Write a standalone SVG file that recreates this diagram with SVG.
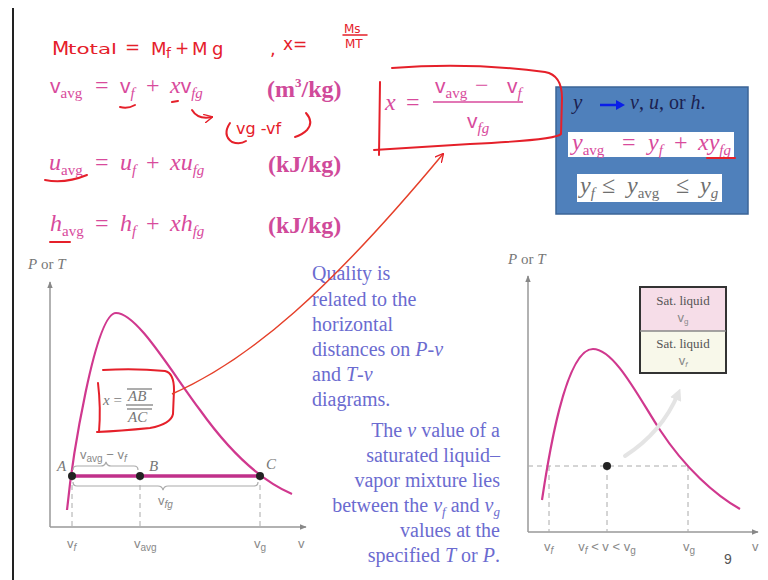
<svg xmlns="http://www.w3.org/2000/svg" width="768" height="580" viewBox="0 0 768 580">
<defs>
<style>
.eq{font-family:"Liberation Serif",serif;font-size:24px;fill:#d84a9c}
.v{font-family:"Liberation Sans",sans-serif;font-size:21px;font-weight:300}
.i{font-style:italic}
.sub{font-size:15px}
.subi{font-size:15px;font-style:italic}
.unit{font-family:"Liberation Serif",serif;font-size:24px;font-weight:bold;fill:#d04a9a}
.hand{font-family:"DejaVu Sans",sans-serif;fill:#e5202a}
.hstroke{fill:none;stroke:#e5202a;stroke-width:2;stroke-linecap:round;stroke-linejoin:round}
.mid{font-family:"Liberation Serif",serif;font-size:20px;fill:#6b6bd0}
.glab{font-family:"Liberation Serif",serif;font-size:15px;fill:#777}
.gsans{font-family:"Liberation Sans",sans-serif;font-size:13px;fill:#888}
.axis{stroke:#999;stroke-width:1.5;fill:none}
.dash{stroke:#aaa;stroke-width:1;stroke-dasharray:5 4;fill:none}
.curve{stroke:#d0388e;stroke-width:2.2;fill:none}
.brace{stroke:#aaa;stroke-width:1.2;fill:none}
</style>
<marker id="ah" viewBox="0 0 10 10" refX="9" refY="5" markerWidth="9" markerHeight="9" orient="auto" markerUnits="userSpaceOnUse">
<path d="M0,0 L10,5 L0,10" fill="none" stroke="#e5202a" stroke-width="1.5"/>
</marker>
<marker id="axh" viewBox="0 0 10 10" refX="9" refY="5" markerWidth="7" markerHeight="7" orient="auto" markerUnits="userSpaceOnUse">
<path d="M0,1 L10,5 L0,9 Z" fill="#888"/>
</marker>
<marker id="gh" viewBox="0 0 10 10" refX="5" refY="5" markerWidth="12" markerHeight="12" orient="auto" markerUnits="userSpaceOnUse">
<path d="M0,0 L10,5 L0,10 Z" fill="#e4e4e4"/>
</marker>
</defs>
<rect width="768" height="580" fill="#ffffff"/>
<line x1="13" y1="8" x2="13" y2="580" stroke="#222" stroke-width="2"/>

<g id="title-handwriting">
<text class="hand" x="52" y="55" font-size="20">M</text>
<text class="hand" x="68" y="54" font-size="14" textLength="49" lengthAdjust="spacingAndGlyphs">total</text>
<text class="hand" x="125" y="53" font-size="18">=</text>
<text class="hand" x="151" y="55" font-size="18">M</text>
<text class="hand" x="166" y="58" font-size="14">f</text>
<text class="hand" x="175" y="54" font-size="17">+</text>
<text class="hand" x="192" y="55" font-size="18">M</text>
<text class="hand" x="212" y="55" font-size="18">g</text>
<text class="hand" x="270" y="55" font-size="18">,</text>
<text class="hand" x="283" y="50" font-size="17">x=</text>
<text class="hand" x="344" y="33" font-size="12">Ms</text>
<line class="hstroke" x1="343" y1="35" x2="367" y2="35" style="stroke-width:1.5"/>
<text class="hand" x="345" y="48" font-size="12">MT</text>
</g>

<g id="eq-v">
<text class="eq" y="93"><tspan x="50" class="v">v</tspan><tspan class="sub" dy="5">avg</tspan><tspan dy="-5" x="95">=</tspan><tspan x="120" class="v">v</tspan><tspan class="subi" dy="5">f</tspan><tspan dy="-5" x="146">+</tspan><tspan x="170" class="i">x</tspan><tspan class="v">v</tspan><tspan class="subi" dy="5">fg</tspan></text>
<text class="unit" x="267" y="97">(m<tspan font-size="13" dy="-10">3</tspan><tspan dy="10">/kg)</tspan></text>
</g>
<g id="eq-u">
<text class="eq" y="170"><tspan x="49" class="i">u</tspan><tspan class="sub" dy="5">avg</tspan><tspan dy="-5" x="95">=</tspan><tspan x="120" class="i">u</tspan><tspan class="subi" dy="5">f</tspan><tspan dy="-5" x="146">+</tspan><tspan x="170" class="i">xu</tspan><tspan class="subi" dy="5">fg</tspan></text>
<text class="unit" x="268" y="172">(kJ/kg)</text>
</g>
<g id="eq-h">
<text class="eq" y="231"><tspan x="50" class="i">h</tspan><tspan class="sub" dy="5">avg</tspan><tspan dy="-5" x="95">=</tspan><tspan x="120" class="i">h</tspan><tspan class="subi" dy="5">f</tspan><tspan dy="-5" x="146">+</tspan><tspan x="170" class="i">xh</tspan><tspan class="subi" dy="5">fg</tspan></text>
<text class="unit" x="268" y="233">(kJ/kg)</text>
</g>

<g id="eq-annotations">
<path class="hstroke" d="M120 107 Q128 109 135 105"/>
<path class="hstroke" d="M172 102 L178 101"/>
<path class="hstroke" d="M192 110 Q198 120 212 117" marker-end="url(#ah)"/>
<path class="hstroke" d="M230 123 Q222 135 232 142 Q240 145 246 141"/>
<text class="hand" x="236" y="134" font-size="16">vg -vf</text>
<path class="hstroke" d="M306 113 Q314 122 307 130 Q302 135 295 137"/>
<path class="hstroke" d="M45 180 Q65 184 87 175"/>
<path class="hstroke" d="M50 242 L70 242"/>
</g>

<g id="y-box">
<rect x="556" y="87" width="192" height="127" fill="#4f80bb" stroke="#3b6497" stroke-width="1.5"/>
<text x="573" y="109" font-family="Liberation Serif,serif" font-size="21" font-style="italic" fill="#1b2150">y</text>
<line x1="600" y1="105" x2="618" y2="105" stroke="#0a1ee8" stroke-width="2.5"/>
<path d="M616 100 L625 105 L616 110 Z" fill="#0a1ee8"/>
<text x="630" y="109" font-family="Liberation Serif,serif" font-size="20" fill="#1b2150"><tspan font-style="italic">v</tspan>, <tspan font-style="italic">u</tspan>, or <tspan font-style="italic">h</tspan>.</text>
<rect x="568" y="132" width="166" height="25" fill="#ffffff"/>
<text class="eq" y="150"><tspan x="572" class="i">y</tspan><tspan class="sub" dy="5">avg</tspan><tspan dy="-5" x="622">=</tspan><tspan x="648" class="i">y</tspan><tspan class="subi" dy="5">f</tspan><tspan dy="-5" x="674">+</tspan><tspan x="698" class="i">xy</tspan><tspan class="subi" dy="5">fg</tspan></text>
<path class="hstroke" d="M707 158 L735 158"/>
<rect x="577" y="174" width="145" height="28" fill="#ffffff"/>
<text class="eq" y="193" style="fill:#6f6f6f"><tspan x="580" class="i">y</tspan><tspan class="subi" dy="5">f</tspan><tspan dy="-5" x="602">≤</tspan><tspan x="627" class="i">y</tspan><tspan class="sub" dy="5">avg</tspan><tspan dy="-5" x="676">≤</tspan><tspan x="700" class="i">y</tspan><tspan class="subi" dy="5">g</tspan></text>
</g>

<g id="x-formula">
<text class="eq" y="110"><tspan x="385" class="i">x</tspan><tspan x="406">=</tspan></text>
<text class="eq" y="93"><tspan x="435" class="v">v</tspan><tspan class="sub" dy="5">avg</tspan><tspan dy="-5" x="475">−</tspan><tspan x="507" class="v">v</tspan><tspan class="subi" dy="5">f</tspan></text>
<line x1="433" y1="102" x2="523" y2="102" stroke="#d84a9c" stroke-width="1.6"/>
<text class="eq" y="128"><tspan x="467" class="v">v</tspan><tspan class="subi" dy="5">fg</tspan></text>
<path class="hstroke" d="M392 68 Q470 62 545 72 Q562 75 562 98 L561 134 Q556 140 470 144 L374 150"/>
<path class="hstroke" d="M380 82 L379 155"/>
</g>

<g id="left-graph">
<line class="axis" x1="50" y1="527" x2="50" y2="282" marker-end="url(#axh)"/>
<line class="axis" x1="50" y1="527" x2="306" y2="527" marker-end="url(#axh)"/>
<text x="28" y="269" class="glab" font-size="14"><tspan font-style="italic">P</tspan> or <tspan font-style="italic">T</tspan></text>
<path class="dash" d="M72 476 V527 M140 476 V527 M260 476 V527"/>
<path class="curve" d="M67 510 C72 460 95 313 116 313 C137 313 170 370 200 410 C225 445 255 478 292 494"/>
<line x1="72" y1="476" x2="260" y2="476" stroke="#c0308a" stroke-width="3.5"/>
<circle cx="72" cy="476" r="4" fill="#222"/>
<circle cx="140" cy="476" r="4" fill="#222"/>
<circle cx="260" cy="476" r="4" fill="#222"/>
<text class="glab" x="57" y="471" font-style="italic">A</text>
<text class="glab" x="149" y="471" font-style="italic">B</text>
<text class="glab" x="266" y="469" font-style="italic">C</text>
<path class="brace" d="M73 470 Q73 466 77 466 L101 466 Q105 466 106 462 Q107 466 111 466 L134 466 Q138 466 138 470"/>
<text class="gsans" x="80" y="459">v<tspan font-size="10" dy="3">avg</tspan><tspan dy="-3"> − v</tspan><tspan font-size="10" dy="3" font-style="italic">f</tspan></text>
<path class="brace" d="M73 482 Q73 486 77 486 L158 486 Q162 486 163 490 Q164 486 168 486 L254 486 Q258 486 258 482"/>
<text class="gsans" x="158" y="505">v<tspan font-size="10" dy="3" font-style="italic">fg</tspan></text>
<text class="gsans" x="67" y="548">v<tspan font-size="10" dy="3" font-style="italic">f</tspan></text>
<text class="gsans" x="134" y="548">v<tspan font-size="10" dy="3">avg</tspan></text>
<text class="gsans" x="254" y="548">v<tspan font-size="10" dy="3">g</tspan></text>
<text class="gsans" x="298" y="548">v</text>
<text class="glab" x="103" y="405" font-style="italic">x<tspan font-style="normal"> =</tspan></text>
<line x1="127" y1="389" x2="152" y2="389" stroke="#777" stroke-width="1.2"/>
<text class="glab" x="128" y="401" font-style="italic">AB</text>
<line x1="126" y1="405" x2="153" y2="405" stroke="#777" stroke-width="1.2"/>
<line x1="127" y1="409" x2="152" y2="409" stroke="#777" stroke-width="1.2"/>
<text class="glab" x="128" y="422" font-style="italic">AC</text>
<path class="hstroke" d="M103 370 Q135 368 165 371 Q174 373 174 390 L173 414 Q171 424 150 428 Q120 431 97 432"/>
<path class="hstroke" d="M98 383 Q101 408 99 432"/>
</g>

<g id="middle-text">
<text class="mid" x="312" y="280">Quality is</text>
<text class="mid" x="312" y="306">related to the</text>
<text class="mid" x="312" y="331">horizontal</text>
<text class="mid" x="312" y="356">distances on <tspan font-style="italic">P</tspan>-<tspan font-style="italic">v</tspan></text>
<text class="mid" x="312" y="381">and <tspan font-style="italic">T</tspan>-<tspan font-style="italic">v</tspan></text>
<text class="mid" x="312" y="406">diagrams.</text>
<text class="mid" x="500" y="437" text-anchor="end">The <tspan font-style="italic">v</tspan> value of a</text>
<text class="mid" x="500" y="462" text-anchor="end">saturated liquid–</text>
<text class="mid" x="500" y="487" text-anchor="end">vapor mixture lies</text>
<text class="mid" x="500" y="512" text-anchor="end">between the <tspan font-style="italic">v</tspan><tspan font-size="13" dy="4" font-style="italic">f</tspan><tspan dy="-4"> and </tspan><tspan font-style="italic">v</tspan><tspan font-size="13" dy="4" font-style="italic">g</tspan></text>
<text class="mid" x="500" y="537" text-anchor="end">values at the</text>
<text class="mid" x="500" y="562" text-anchor="end">specified <tspan font-style="italic">T</tspan> or <tspan font-style="italic">P</tspan>.</text>
</g>

<g id="right-graph">
<line class="axis" x1="528" y1="532" x2="528" y2="276" marker-end="url(#axh)"/>
<line class="axis" x1="528" y1="532" x2="758" y2="532" marker-end="url(#axh)"/>
<text x="508" y="264" class="glab" font-size="14"><tspan font-style="italic">P</tspan> or <tspan font-style="italic">T</tspan></text>
<path class="dash" d="M528 466 H688 M549 466 V532 M607 466 V532 M688 466 V532"/>
<path class="curve" d="M542 500 C548 460 565 349 593 349 C615 349 640 400 660 430 C685 468 715 495 740 509"/>
<circle cx="607" cy="466" r="4" fill="#222"/>
<text class="gsans" x="544" y="551">v<tspan font-size="10" dy="3" font-style="italic">f</tspan></text>
<text class="gsans" x="607" y="551" text-anchor="middle">v<tspan font-size="10" dy="3" font-style="italic">f</tspan><tspan dy="-3"> &lt; v &lt; v</tspan><tspan font-size="10" dy="3">g</tspan></text>
<text class="gsans" x="683" y="551">v<tspan font-size="10" dy="3">g</tspan></text>
<text class="gsans" x="752" y="551">v</text>
<text x="724" y="564" font-family="Liberation Sans,sans-serif" font-size="14" fill="#555">9</text>
</g>

<g id="sat-box">
<rect x="640" y="287" width="86" height="44" fill="#f6dde8"/>
<rect x="640" y="331" width="86" height="42" fill="#f8f8ea"/>
<rect x="640" y="287" width="86" height="86" fill="none" stroke="#333" stroke-width="2"/>
<line x1="640" y1="331" x2="726" y2="331" stroke="#888" stroke-width="1.5"/>
<text x="683" y="305" text-anchor="middle" font-family="Liberation Serif,serif" font-size="13" fill="#555">Sat. liquid</text>
<text x="683" y="322" text-anchor="middle" class="gsans" font-size="11">v<tspan font-size="8" dy="2">g</tspan></text>
<text x="683" y="348" text-anchor="middle" font-family="Liberation Serif,serif" font-size="13" fill="#555">Sat. liquid</text>
<text x="683" y="365" text-anchor="middle" class="gsans" font-size="11">v<tspan font-size="8" dy="2" font-style="italic">f</tspan></text>
</g>

<g id="connectors">
<path d="M172 394 C250 360 330 290 443 154" fill="none" stroke="#e5402a" stroke-width="1.5" marker-end="url(#ah)"/>
<path d="M625 456 Q662 432 678 394" fill="none" stroke="#e4e4e4" stroke-width="4" stroke-linecap="round" marker-end="url(#gh)"/>
</g>
</svg>
